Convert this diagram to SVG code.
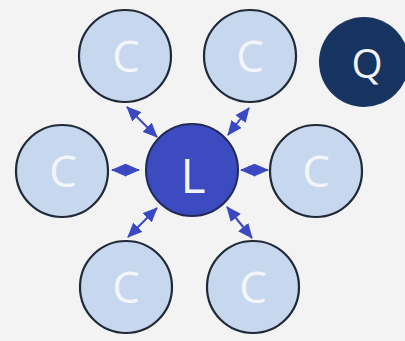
<svg xmlns="http://www.w3.org/2000/svg" width="405" height="341" viewBox="0 0 405 341">
  <defs>
    <marker id="ah" viewBox="0 0 15 13" refX="14" refY="6.5" markerWidth="15" markerHeight="13" markerUnits="userSpaceOnUse" orient="auto-start-reverse">
      <path d="M0,0 L15,6.5 L0,13 z" fill="#3a48c2"/>
    </marker>
  </defs>
  <style>
    .c circle { fill: #c7d7ee; stroke: #1f2937; stroke-width: 2.2; }
    .c text { fill: #f2f6fb; font-family: "Open Sans", "Liberation Sans", sans-serif; font-size: 44px; text-anchor: middle; }
    .l circle { fill: #3c4bc0; stroke: #1f2a55; stroke-width: 2; }
    .l text { fill: #f2f4fb; font-family: "Open Sans", "Liberation Sans", sans-serif; font-size: 48px; text-anchor: middle; }
    .q circle { fill: #17335f; }
    .q text { fill: #f2f4f8; font-family: "Open Sans", "Liberation Sans", sans-serif; font-size: 40px; text-anchor: middle; }
    .e line { stroke: #3a48c2; stroke-width: 2; marker-start: url(#ah); marker-end: url(#ah); }
  </style>
  <rect width="405" height="341" fill="#f3f3f3"/>
  <g id="edges" class="e">
    <line x1="127" y1="107" x2="157" y2="137"/>
    <line x1="249" y1="108" x2="228" y2="135"/>
    <line x1="112" y1="170" x2="139" y2="170"/>
    <line x1="241" y1="170" x2="268" y2="170"/>
    <line x1="157" y1="208" x2="128" y2="237"/>
    <line x1="227" y1="207" x2="252" y2="238"/>
  </g>
  <g id="c1" class="c"><circle cx="125" cy="56" r="46"/><text x="126" y="72">C</text></g>
  <g id="c2" class="c"><circle cx="250" cy="56" r="46"/><text x="250" y="72">C</text></g>
  <g id="c3" class="c"><circle cx="62" cy="171" r="46"/><text x="63" y="187">C</text></g>
  <g id="leader" class="l"><circle cx="192" cy="170" r="46"/><text x="193" y="193">L</text></g>
  <g id="c4" class="c"><circle cx="316" cy="171" r="46"/><text x="316" y="187">C</text></g>
  <g id="c5" class="c"><circle cx="126" cy="287" r="46"/><text x="126" y="303">C</text></g>
  <g id="c6" class="c"><circle cx="253" cy="287" r="46"/><text x="253" y="303">C</text></g>
  <g id="q" class="q"><circle cx="364" cy="62" r="45"/><text x="367" y="78">Q</text></g>
</svg>
